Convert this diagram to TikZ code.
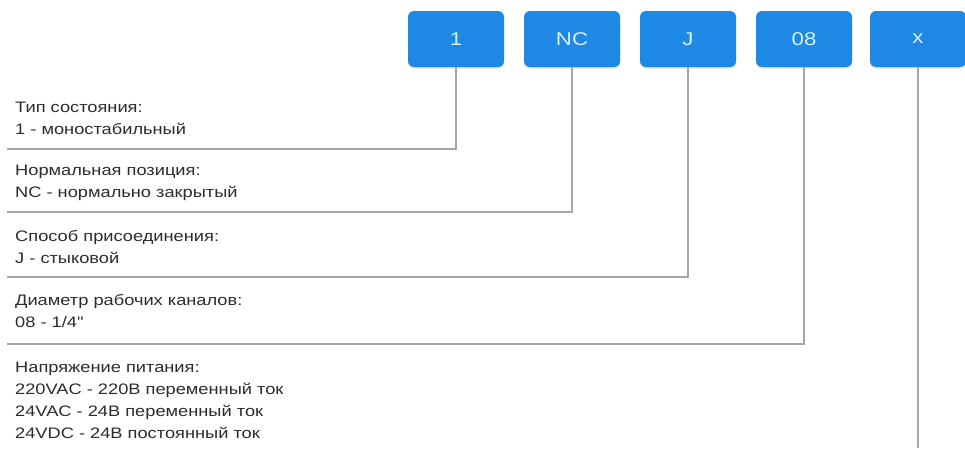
\documentclass[tikz,border=0pt]{standalone}
\usepackage{fontspec}
\setmainfont{Liberation Sans}[FakeStretch=1.2, Ligatures=TeXOff]
\usetikzlibrary{shadows}
\definecolor{codeblue}{HTML}{1E88E5}
\definecolor{codetext}{HTML}{D8EEFF}
\definecolor{leadgray}{HTML}{A6A6A6}
\definecolor{descgray}{HTML}{2C2C2C}
\tikzset{
  codebox/.style={draw=none, fill=codeblue, rounded corners=6pt,
    minimum width=96pt, minimum height=56pt, text=codetext,
    font=\fontsize{18.5}{21}\selectfont,
    drop shadow={shadow xshift=0pt, shadow yshift=-1.5pt, opacity=0.25}},
  desc/.style={anchor=base west, align=left, inner sep=0pt, text=descgray,
    font=\fontsize{15.2}{22}\selectfont},
  leader/.style={draw=leadgray, line width=1.4pt}
}
\begin{document}
\begin{tikzpicture}[x=1pt,y=-1pt]
\useasboundingbox (0,0) rectangle (965,448);

% Code boxes (top row)
\foreach \n/\cx/\lbl in {1/456/1, 2/572/NC, 3/688/J, 4/804/08, 5/918/x} {
  \node[codebox] (b\n) at (\cx,39) {\lbl};
}

% Descriptions (anchored on the last baseline)
\node[desc] (t1) at (15,134) {Тип состояния:\\1 - моностабильный};
\node[desc] (t2) at (15,197) {Нормальная позиция:\\NC - нормально закрытый};
\node[desc] (t3) at (15,263) {Способ присоединения:\\J - стыковой};
\node[desc] (t4) at (15,327) {Диаметр рабочих каналов:\\08 - 1/4"};
\node[desc] (t5) at (15,438) {Напряжение питания:\\220VAC - 220В переменный ток\\24VAC - 24В переменный ток\\24VDC - 24В постоянный ток};

% Leader lines
\coordinate (e1) at (7,149);
\coordinate (e2) at (7,212);
\coordinate (e3) at (7,277);
\coordinate (e4) at (7,344);
\coordinate (e5) at (918,448);
\foreach \n in {1,...,4} {
  \draw[leader] (b\n.south) |- (e\n);
}
\draw[leader] (b5.south) -- (e5);
\end{tikzpicture}
\end{document}
